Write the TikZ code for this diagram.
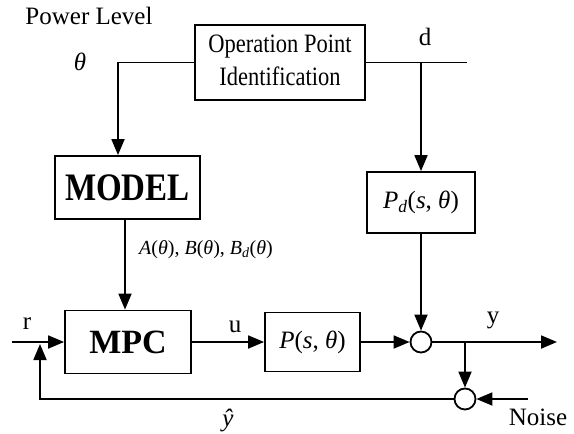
\documentclass[tikz,border=0pt]{standalone}
\usepackage{graphicx}
\usepackage{fontspec}
\setmainfont{Liberation Serif}
\usetikzlibrary{arrows.meta}
\tikzset{
  blk/.style={draw, rectangle, inner sep=0pt, line width=1.8pt},
  sumpt/.style={draw, circle, minimum size=21pt, inner sep=0pt, line width=1.8pt},
  sig/.style={line width=1.8pt},
  lbl/.style={inner sep=0pt, font=\fontsize{25}{28}\selectfont},
}
\newcommand{\vstretch}[1]{\scalebox{1}[1.18]{#1}}
\begin{document}
\begin{tikzpicture}[x=1pt, y=-1pt, >={Triangle[length=16pt,width=13pt]}]
\useasboundingbox (0,0) rectangle (574,434);

% blocks
\node[blk, minimum width=170pt, minimum height=75pt,
      font=\fontsize{22.5}{27.5}\selectfont] (op) at (280,62.5)
      {\vstretch{\begin{tabular}{@{}c@{}}Operation Point\\Identification\end{tabular}}};
\node[blk, minimum width=145pt, minimum height=63pt,
      font=\fontsize{33}{36}\selectfont\bfseries] (model) at (127.5,187.5)
      {\vstretch{MODEL}};
\node[blk, minimum width=108pt, minimum height=61pt,
      font=\fontsize{25}{28}\selectfont] (pd) at (421,202.5)
      {\textit{P}\textsubscript{\itshape d}(\textit{s}, \textit{θ})};
\node[blk, minimum width=126pt, minimum height=63pt,
      font=\fontsize{34}{36}\selectfont\bfseries] (mpc) at (128,342) {MPC};
\node[blk, minimum width=95pt, minimum height=59pt,
      font=\fontsize{25}{28}\selectfont] (plant) at (312.5,342)
      {\textit{P}(\textit{s}, \textit{θ})};
\node[sumpt] (s1) at (421,342) {};
\node[sumpt] (s2) at (465,399) {};

% free ends
\coordinate (dend) at (467,62.5);
\coordinate (yout) at (557,342);
\coordinate (br) at (465,342);
\coordinate (nz) at (528,399);
\coordinate (fbend) at (40,344);
\coordinate (rin) at (12,342);

% connectors
\draw[sig, ->] (op.west) -| ([xshift=-9.5pt]model.north);
\draw[sig] (op.east) -- (dend);
\draw[sig, ->] (pd.north |- op.east) -- (pd.north);
\draw[sig, ->] ([xshift=-2.5pt]model.south) -- ([xshift=-3pt]mpc.north);
\draw[sig, ->] (rin) -- (mpc.west);
\draw[sig, ->] (mpc.east) -- (plant.west);
\draw[sig, ->] (plant.east) -- (s1.west);
\draw[sig, ->] (pd.south) -- (s1.north);
\draw[sig, ->] (s1.east) -- (yout);
\draw[sig, ->] (br) -- (s2.north);
\draw[sig, ->] (nz) -- (s2.east);
\draw[sig, ->] (s2.west) -| (fbend);

% labels
\node[lbl] (tpl) at (89,16) {Power Level};
\node[lbl] (tth) at (80,62) {\textit{θ}};
\node[lbl] (td) at (425,37) {d};
\node[lbl, font=\fontsize{20}{22}\selectfont] (tabc) at (206,250)
      {\textit{A}(\textit{θ}), \textit{B}(\textit{θ}), \textit{B}\textsubscript{\itshape d}(\textit{θ})};
\node[lbl] (tr) at (27,324) {r};
\node[lbl] (tu) at (235,327) {u};
\node[lbl] (ty) at (493,320) {y};
\node[lbl] (tyh) at (228,421) {\textit{ŷ}};
\node[lbl] (tn) at (538,417) {Noise};
\end{tikzpicture}
\end{document}
